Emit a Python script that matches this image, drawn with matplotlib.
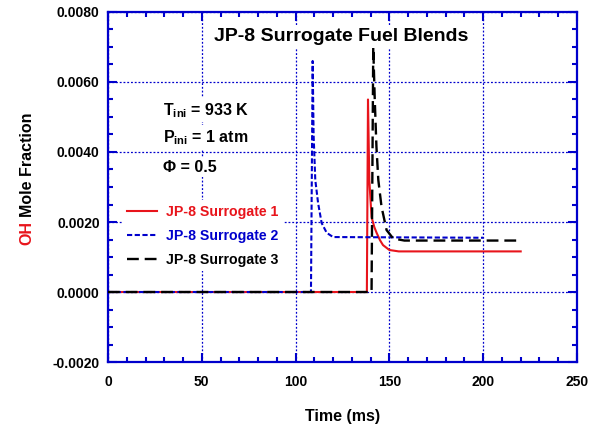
import matplotlib
matplotlib.use("Agg")
import matplotlib.pyplot as plt
from matplotlib.ticker import MultipleLocator, FormatStrFormatter

plt.rcParams['font.family'] = ['Liberation Sans', 'DejaVu Sans']
plt.rcParams['font.weight'] = 'bold'
plt.rcParams['mathtext.fontset'] = 'custom'
plt.rcParams['mathtext.rm'] = 'Liberation Sans:bold'
plt.rcParams['mathtext.bf'] = 'Liberation Sans:bold'

# данные
t_s1 = [0, 138.0, 138.6, 139.3, 140.5, 142.0, 143.2, 145.0, 146.6, 150.0, 155.0, 220.0]
oh_s1 = [0, 0, 0.0055, 0.0032, 0.00214, 0.00185, 0.00169, 0.00148, 0.00134, 0.0012, 0.00116, 0.00116]

t_s2 = [0, 108.2, 109.1, 109.6, 110.5, 112.0, 113.9, 116.6, 120.0, 200.0]
oh_s2 = [0, 0, 0.0066, 0.0045, 0.0032, 0.00254, 0.00197, 0.00169, 0.00157, 0.00155]

t_s3 = [0, 140.5, 141.4, 142.2, 143.1, 144.1, 145.8, 148.5, 152.0, 158.0, 220.0]
oh_s3 = [0, 0, 0.0070, 0.0055, 0.00415, 0.0032, 0.00244, 0.00177, 0.00153, 0.00147, 0.00147]

labels = ["JP-8 Surrogate 1", "JP-8 Surrogate 2", "JP-8 Surrogate 3"]

blue = '#0000cc'

fig = plt.figure(figsize=(5.95, 4.25), dpi=100)
ax = fig.add_axes([0.1815, 0.1482, 0.7882, 0.8236])

ax.plot(t_s1, oh_s1, color='#e8141b', lw=1.5, label=labels[0], zorder=3)
ax.plot(t_s2, oh_s2, color=blue, lw=1.5, dashes=(2.5, 1.2), label=labels[1], zorder=3)
ax.plot(t_s3, oh_s3, color='black', lw=1.7, dashes=(5, 2.5), label=labels[2], zorder=3)

ax.set_xlim(0, 250)
ax.set_ylim(-0.002, 0.008)
ax.xaxis.set_major_locator(MultipleLocator(50))
ax.xaxis.set_minor_locator(MultipleLocator(10))
ax.yaxis.set_major_locator(MultipleLocator(0.002))
ax.yaxis.set_minor_locator(MultipleLocator(0.0005))
ax.yaxis.set_major_formatter(FormatStrFormatter('%.4f'))

ax.grid(True, which='major', color=blue, linestyle=(0, (1.5, 1.5)), lw=0.9)
ax.set_axisbelow(True)

for s in ax.spines.values():
    s.set_color(blue)
    s.set_linewidth(1.6)
ax.tick_params(which='both', direction='in', top=True, right=True, color=blue,
               labelsize=10, labelcolor='black')
ax.tick_params(which='major', length=6.5, width=1.5)
ax.tick_params(which='minor', length=3.8, width=1.5)
ax.tick_params(axis='x', which='major', pad=9)
ax.tick_params(axis='y', which='major', pad=6)
for lab in ax.get_xticklabels() + ax.get_yticklabels():
    lab.set_fontweight('bold')

ax.set_xlabel("Time (ms)", fontsize=11.5, fontweight='bold', labelpad=14.5)

# подпись оси Y двумя цветами
fig.text(0.046, 0.4235, "OH", color='#e8141b', rotation=90, fontsize=11.5,
         fontweight='bold', ha='center', va='bottom')
fig.text(0.046, 0.489, "Mole Fraction", color='black', rotation=90, fontsize=11.5,
         fontweight='bold', ha='center', va='bottom')

box = dict(facecolor='white', edgecolor='none', pad=2)
ax.text(0.498, 0.929, "JP-8 Surrogate Fuel Blends", transform=ax.transAxes,
        fontsize=14, fontweight='bold', ha='center', va='center', bbox=box)
ax.text(0.117, 0.706, r"T$_{\rm ini}$ = 933 K", transform=ax.transAxes,
        fontsize=11.5, fontweight='bold', ha='left', va='baseline', bbox=box)
ax.text(0.117, 0.629, r"P$_{\rm ini}$ = 1 atm", transform=ax.transAxes,
        fontsize=11.5, fontweight='bold', ha='left', va='baseline', bbox=box)
ax.text(0.117, 0.544, "Φ = 0.5", transform=ax.transAxes,
        fontsize=11.5, fontweight='bold', ha='left', va='baseline', bbox=box)

leg = ax.legend(loc='upper left', bbox_to_anchor=(0.031, 0.462), frameon=True,
                fancybox=False, edgecolor='none', facecolor='white', framealpha=1,
                handlelength=2.1, handletextpad=0.7, labelspacing=0.72,
                borderpad=0.3, borderaxespad=0, labelcolor='linecolor',
                prop={'weight': 'bold', 'size': 10.2})
leg.set_zorder(2)

fig.savefig("out.png", dpi=100)
